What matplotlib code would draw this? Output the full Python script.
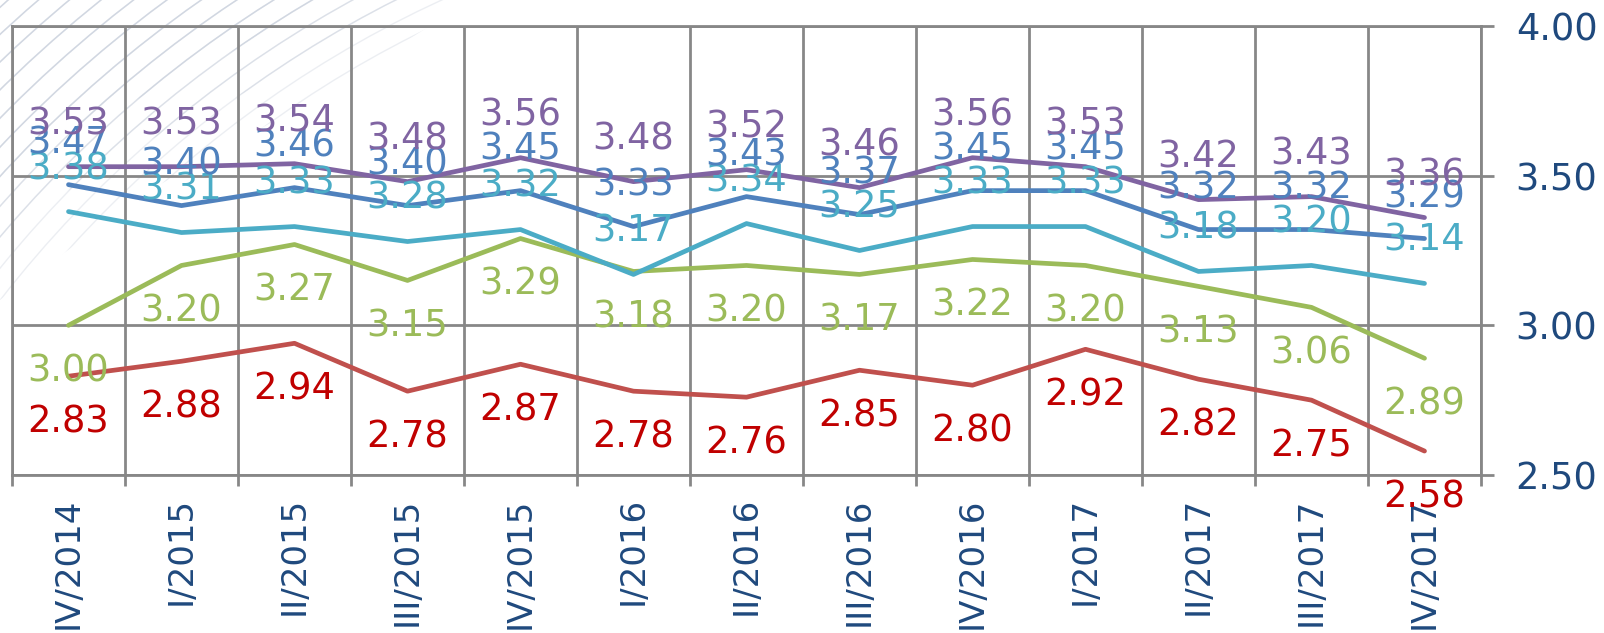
import numpy as np
import matplotlib.pyplot as plt
from matplotlib.patches import Circle, Polygon
from matplotlib.transforms import offset_copy

quarters = ['IV/2014', 'I/2015', 'II/2015', 'III/2015', 'IV/2015', 'I/2016',
            'II/2016', 'III/2016', 'IV/2016', 'I/2017', 'II/2017', 'III/2017',
            'IV/2017']

purple = [3.53, 3.53, 3.54, 3.48, 3.56, 3.48, 3.52, 3.46, 3.56, 3.53, 3.42, 3.43, 3.36]
blue = [3.47, 3.40, 3.46, 3.40, 3.45, 3.33, 3.43, 3.37, 3.45, 3.45, 3.32, 3.32, 3.29]
teal = [3.38, 3.31, 3.33, 3.28, 3.32, 3.17, 3.34, 3.25, 3.33, 3.33, 3.18, 3.20, 3.14]
green = [3.00, 3.20, 3.27, 3.15, 3.29, 3.18, 3.20, 3.17, 3.22, 3.20, 3.13, 3.06, 2.89]
red = [2.83, 2.88, 2.94, 2.78, 2.87, 2.78, 2.76, 2.85, 2.80, 2.92, 2.82, 2.75, 2.58]

yticks = [2.5, 3.0, 3.5, 4.0]

grid_c = '#878787'
axis_txt = '#1F497D'

# (values, line colour, label colour, label offset in points)
series = [
    (red, '#C0504D', '#C00000', -33),
    (green, '#9BBB59', '#9BBB59', -33),
    (teal, '#4BACC6', '#4BACC6', 31),
    (blue, '#4F81BD', '#4F81BD', 30),
    (purple, '#8064A2', '#8064A2', 30.5),
]

fig = plt.figure(figsize=(16.04, 6.33), dpi=100)

# faint swirl in the background, top-left corner; the arcs fade out in steps
bg = fig.add_axes([0, 0, 1, 1], zorder=0)
bg.set_xlim(0, 1604)
bg.set_ylim(633, 0)
bg.axis('off')
zones = [
    ([[0, 0], [470, 0], [330, 90], [150, 190], [0, 300]], 0.35),
    ([[0, 0], [400, 0], [270, 80], [110, 160], [0, 240]], 0.45),
    ([[0, 0], [320, 0], [200, 70], [70, 130], [0, 180]], 0.55),
]
for pts, a in zones:
    clip = Polygon(pts, closed=True, transform=bg.transData,
                   facecolor='none', edgecolor='none')
    bg.add_patch(clip)
    for r in np.arange(940, 1380, 20):
        c = Circle((900, 1000), r, fill=False, lw=1.0, ec='#C9D0DC', alpha=a)
        bg.add_patch(c)
        c.set_clip_path(clip)

ax = fig.add_axes([12 / 1604, 1 - 475 / 633, 1469 / 1604, 449 / 633], zorder=1)
ax.patch.set_alpha(0)

x = np.arange(len(quarters))
for vals, lc, tc, off in series:
    ax.plot(x, vals, color=lc, lw=3.4, solid_capstyle='round', zorder=3)
    tr = offset_copy(ax.transData, fig=fig, x=0, y=off, units='points')
    for xi, v in zip(x, vals):
        ax.text(xi, v, f'{v:.2f}', transform=tr, ha='center', va='center',
                fontsize=26.5, color=tc, zorder=4, clip_on=False)

ax.set_xlim(-0.5, len(quarters) - 0.5)
ax.set_ylim(2.5, 4.0)

ax.set_xticks(x)
ax.set_xticklabels(quarters, rotation=90, fontsize=24.5, color=axis_txt, va='top')
ax.set_xticks(np.arange(-0.5, len(quarters)), minor=True)
ax.tick_params(axis='x', which='major', length=0, pad=16)
ax.tick_params(axis='x', which='minor', length=8, width=2, color=grid_c, direction='out')
ax.grid(axis='x', which='minor', color=grid_c, lw=2)

ax.yaxis.tick_right()
ax.set_yticks(yticks)
ax.set_yticklabels([f'{t:.2f}' for t in yticks], fontsize=26.5, color=axis_txt)
ax.tick_params(axis='y', length=9, width=2, color=grid_c, direction='out', pad=16)
ax.grid(axis='y', color=grid_c, lw=2)

for s in ax.spines.values():
    s.set_color(grid_c)
    s.set_linewidth(2)
ax.set_axisbelow(True)

fig.savefig('out.png', dpi=100)
